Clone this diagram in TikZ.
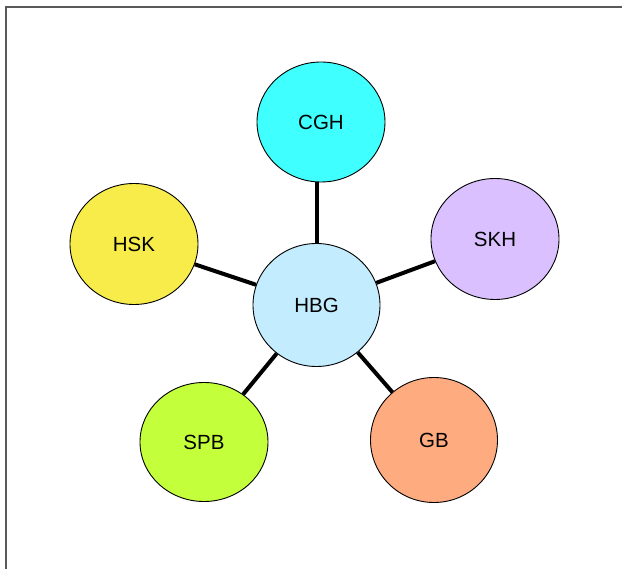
\documentclass[tikz,border=0pt]{standalone}
\usepackage{fontspec}
\setmainfont{Liberation Sans}
\usetikzlibrary{shapes.geometric}
\definecolor{cCGH}{HTML}{40FFFF}
\definecolor{cHBG}{HTML}{C4ECFF}
\definecolor{cHSK}{HTML}{F7EC4A}
\definecolor{cSKH}{HTML}{DAC0FF}
\definecolor{cSPB}{HTML}{C4FF3C}
\definecolor{cGB}{HTML}{FFAB80}
\tikzset{
  bub/.style={ellipse, draw=black, line width=0.9pt, minimum width=128pt, minimum height=121pt, inner sep=0pt, font=\fontsize{20.5}{24}\selectfont},
  link/.style={line width=4pt, black}
}
\begin{document}
\begin{tikzpicture}[x=1pt,y=-1pt]
\useasboundingbox (0,0) rectangle (622,569);
\draw[line width=1.6pt, black!65] (6,569) -- (6,7) -- (622,7);
\node[bub, fill=cHBG, minimum width=127pt, minimum height=123pt] (hbg) at (316.5,305) {HBG};
\node[bub, fill=cCGH, minimum height=120pt] (cgh) at (321,122) {CGH};
\node[bub, fill=cHSK] (hsk) at (134,244) {HSK};
\node[bub, fill=cSKH] (skh) at (495,239) {SKH};
\node[bub, fill=cSPB, minimum height=119pt] (spb) at (204,442) {SPB};
\node[bub, fill=cGB, minimum width=127pt, minimum height=125pt] (gb) at (434,440) {GB};
\draw[link] (hbg.north) -- (hbg.north |- cgh.south);
\draw[link] (hbg) -- (hsk);
\draw[link] (hbg) -- (skh);
\draw[link] (hbg) -- (spb);
\draw[link] (hbg) -- (gb);
\end{tikzpicture}
\end{document}
